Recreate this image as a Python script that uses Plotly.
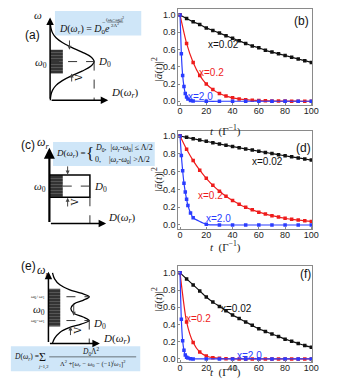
import plotly.graph_objects as go

# browser window size; the page body keeps its default 8px margin, so the
# figure itself is drawn 8px smaller and all pixel positions are shifted by it
W, H = 337, 391
OFF = 8
FW, FH = W - OFF, H - OFF

# ---- decay curves |a(t)|^2 ----
t_every5 = list(range(0, 101, 5))
t_fast = [0, 1, 2, 3, 4, 5, 6, 8, 10, 20, 30, 40, 50, 60, 70, 80, 90, 100]

b_x002 = [1.0, 0.96, 0.92, 0.89, 0.85, 0.82, 0.79, 0.76, 0.73, 0.70, 0.67,
          0.64, 0.62, 0.59, 0.57, 0.55, 0.53, 0.51, 0.49, 0.47, 0.45]
b_x02 = [1.0, 0.67, 0.45, 0.30, 0.20, 0.135, 0.09, 0.06, 0.04, 0.027, 0.018,
         0.012, 0.008, 0.005, 0.004, 0.002, 0.002, 0.001, 0.001, 0.0, 0.0]
b_x20 = [1.0, 0.55, 0.30, 0.17, 0.09, 0.05, 0.027, 0.008, 0.002,
         0, 0, 0, 0, 0, 0, 0, 0, 0]

d_x002 = [1.0, 0.985, 0.969, 0.954, 0.94, 0.925, 0.91, 0.896, 0.882, 0.868, 0.855,
          0.842, 0.829, 0.816, 0.803, 0.79, 0.778, 0.766, 0.754, 0.742, 0.73]
d_x02 = [1.0, 0.851, 0.724, 0.616, 0.525, 0.446, 0.38, 0.323, 0.275, 0.234, 0.199,
         0.17, 0.144, 0.123, 0.105, 0.089, 0.076, 0.064, 0.055, 0.047, 0.04]
d_x20 = [1.0, 0.78, 0.61, 0.47, 0.37, 0.29, 0.22, 0.135, 0.082,
         0.007, 0, 0, 0, 0, 0, 0, 0, 0]

f_x002 = [1.0, 0.93, 0.86, 0.79, 0.72, 0.66, 0.61, 0.56, 0.51, 0.47, 0.43,
          0.39, 0.35, 0.32, 0.29, 0.26, 0.23, 0.205, 0.18, 0.155, 0.135]
f_x02 = [1.0, 0.43, 0.19, 0.08, 0.035, 0.015, 0.007, 0.003, 0.001, 0, 0,
         0, 0, 0, 0, 0, 0, 0, 0, 0, 0]
f_x20 = [1.0, 0.46, 0.21, 0.10, 0.045, 0.02, 0.01, 0.002, 0,
         0, 0, 0, 0, 0, 0, 0, 0, 0]

x_ticks = [0, 20, 40, 60, 80, 100]
y_ticks = [0.0, 0.2, 0.4, 0.6, 0.8, 1.0]

# ---- schematic density-of-states profiles (omega in units of Lambda, D in D0) ----
gauss_w = [-3.25, -2.8, -2.4, -2.0, -1.6, -1.2, -0.8, -0.4, 0, 0.4, 0.8, 1.2, 1.6, 2.0, 2.4, 2.8, 3.25]
gauss_D = [0.005, 0.02, 0.056, 0.135, 0.278, 0.487, 0.726, 0.923, 1.0,
           0.923, 0.726, 0.487, 0.278, 0.135, 0.056, 0.02, 0.005]
box_w = [0.5, 0.5, -0.5, -0.5]
box_D = [0, 1, 1, 0]
lor_w = [-2.9, -2.5, -2.0, -1.6, -1.3, -1.0, -0.7, -0.4, 0, 0.4, 0.7, 1.0, 1.3, 1.6, 2.0, 2.5, 3.0]
lor_D = [0.10, 0.15, 0.28, 0.51, 0.80, 1.0, 0.85, 0.63, 0.55, 0.63, 0.85, 1.0, 0.80, 0.51, 0.28, 0.15, 0.10]

BLACK, RED, BLUE = "#111111", "#ee1c1c", "#2a3cff"
SANS = "Liberation Sans"
SERIF = "Liberation Serif"


def py(p):
    return 1 - (p - OFF) / FH


def px(p):
    return (p - OFF) / FW


fig = go.Figure()

panels = [
    ("", "y", b_x002, b_x02, b_x20, "(b)", (92.3, 0.93),
     [(33.4, 0.655), (24, 0.337), (15.3, 0.05)], 121),
    ("2", "y2", d_x002, d_x02, d_x20, "(d)", (94, 0.86),
     [(66.9, 0.71), (23.3, 0.33), (29.6, 0.07)], 247),
    ("3", "y3", f_x002, f_x02, f_x20, "(f)", (95.5, 0.99),
     [(42.7, 0.585), (14.4, 0.47), (53, 0.04)], 383),
]

annotations = []
shapes = []

for sfx, yref, s1, s2, s3, letter, lpos, tpos, xtitle_y in panels:
    xr = "x" + sfx
    for tt, yy, col in [(t_every5, s1, BLACK), (t_every5, s2, RED), (t_fast, s3, BLUE)]:
        fig.add_trace(go.Scatter(
            x=tt, y=yy, mode="lines+markers", xaxis=xr, yaxis=yref,
            line=dict(color=col, width=1.2, shape="spline", smoothing=0.6),
            marker=dict(color=col, size=3.5, symbol="square"),
            showlegend=False, hoverinfo="skip"))
    for (tx, ty), txt, col in zip(tpos, ["x=0.02", "x=0.2", "x=2.0"], [BLACK, RED, BLUE]):
        annotations.append(dict(x=tx, y=ty, xref=xr, yref=yref, text=txt, showarrow=False,
                                font=dict(family=SANS, size=10, color=col)))
    annotations.append(dict(x=lpos[0], y=lpos[1], xref=xr, yref=yref, text=letter,
                            showarrow=False, font=dict(family=SANS, size=12, color="#111")))
    annotations.append(dict(x=px(247), y=py(xtitle_y), xref="paper", yref="paper",
                            text="<i>t</i>  (Γ<sup>−1</sup>)", showarrow=False,
                            font=dict(family=SERIF, size=11, color="#222")))

# y-axis titles
for yc in [55, 180, 315]:
    annotations.append(dict(x=px(160), y=py(yc), xref="paper", yref="paper",
                            text="|<i>ā</i>(<i>t</i>)|<sup>2</sup>", textangle=-90, showarrow=False,
                            font=dict(family=SERIF, size=11, color="#222")))

# panel letters on the left
for txt, (lx, ly) in [("(a)", (22, 25)), ("(c)", (18, 145)), ("(e)", (18, 276))]:
    annotations.append(dict(x=px(lx), y=py(ly), xref="paper", yref="paper", text=txt,
                            showarrow=False, font=dict(family=SANS, size=12, color="#111")))


def arrow(xr, yr, x0, y0, x1, y1, w=1.5, head=2, size=1.0, color="black"):
    annotations.append(dict(x=x1, y=y1, ax=x0, ay=y0, xref=xr, yref=yr, axref=xr, ayref=yr,
                            text="", showarrow=True, arrowhead=head, arrowsize=size,
                            arrowwidth=w, arrowcolor=color, standoff=0, startstandoff=0))


def label(xr, yr, x, y, txt, size=11, xanchor="center", family=SERIF, angle=0):
    annotations.append(dict(x=x, y=y, xref=xr, yref=yr, text=txt, showarrow=False,
                            xanchor=xanchor, textangle=angle,
                            font=dict(family=family, size=size, color="#111")))


def dline(xr, yr, x0, y0, x1, y1, dash="dash", w=1, color="#333"):
    shapes.append(dict(type="line", xref=xr, yref=yr, x0=x0, y0=y0, x1=x1, y1=y1,
                       line=dict(color=color, width=w, dash=dash)))


def bluebox(xr, yr, x0, y0, x1, y1):
    shapes.append(dict(type="rect", xref=xr, yref=yr, x0=x0, y0=y0, x1=x1, y1=y1,
                       fillcolor="#cfe6f8", line=dict(width=0), layer="below"))


def shade(xr, yr, d1, w0, w1):
    fig.add_trace(go.Scatter(x=[0, d1, d1, 0, 0], y=[w0, w0, w1, w1, w0], xaxis=xr, yaxis=yr,
                             mode="lines", fill="toself", fillcolor="#333333",
                             fillpattern=dict(shape="-", fgcolor="#808080", size=3,
                                              solidity=0.3, fillmode="overlay"),
                             line=dict(width=0), showlegend=False, hoverinfo="skip"))


OMR = "<i>D</i>(<i>ω<sub>r</sub></i>)"

# ---- (a) Gaussian ----
xa, ya = "x4", "y4"
bluebox(xa, ya, 0.11, 4.25, 2.07, 2.2)
shade(xa, ya, 0.29, -1, 1)
fig.add_trace(go.Scatter(x=gauss_D, y=gauss_w, xaxis=xa, yaxis=ya, mode="lines",
                         line=dict(color="black", width=1.3, shape="spline"),
                         showlegend=False, hoverinfo="skip"))
dline(xa, ya, 0, 0, 1, 0)
dline(xa, ya, 1, 0, 1, -3.25)
arrow(xa, ya, 0, -3.25, 0, 3.7)
arrow(xa, ya, 0, -3.25, 1.32, -3.25)
arrow(xa, ya, 0.44, 1.9, 0.44, 1.0, w=1, size=0.8, color="#444")
arrow(xa, ya, 0.49, -1.8, 0.49, -1.0, w=1, size=0.8, color="#444")
label(xa, ya, 0.66, -1.4, "Λ", size=10, angle=90)
label(xa, ya, -0.27, 3.9, "<i>ω</i>", size=11)
label(xa, ya, -0.03, -0.1, "<i>ω</i><sub>0</sub>", size=11, xanchor="right")
label(xa, ya, 1.05, -0.05, "<i>D</i><sub>0</sub>", size=11, xanchor="left")
label(xa, ya, 1.33, -2.65, OMR, size=11, xanchor="left")
label(xa, ya, 0.15, 2.7, OMR + " = <i>D</i><sub>0</sub><i>e</i>", size=10, xanchor="left")
label(xa, ya, 1.48, 3.55, "(<i>ω<sub>r</sub></i>−<i>ω</i><sub>0</sub>)<sup>2</sup>", size=5)
label(xa, ya, 1.48, 3.1, "2Λ<sup>2</sup>", size=5)
label(xa, ya, 1.22, 3.33, "−", size=6)
dline(xa, ya, 1.30, 3.32, 1.66, 3.32, dash="solid", w=0.5, color="#222")

# ---- (c) box ----
xc, yc = "x5", "y5"
bluebox(xc, yc, 0.09, 1.98, 2.6, 0.9)
shade(xc, yc, 0.33, -0.5, 0.5)
fig.add_trace(go.Scatter(x=box_D, y=box_w, xaxis=xc, yaxis=yc, mode="lines",
                         line=dict(color="black", width=1.5),
                         showlegend=False, hoverinfo="skip"))
dline(xc, yc, 0.33, 0, 1, 0)
dline(xc, yc, 1, -0.5, 1, -1.67)
arrow(xc, yc, 0, -1.67, 0, 1.72, w=2.2)
arrow(xc, yc, 0, -1.67, 1.4, -1.67, w=1.5)
arrow(xc, yc, 0.45, 0.95, 0.45, 0.52, w=1, size=0.8, color="#444")
arrow(xc, yc, 0.45, -0.98, 0.45, -0.52, w=1, size=0.8, color="#444")
label(xc, yc, 0.63, -0.73, "Λ", size=10, angle=90)
label(xc, yc, -0.17, 1.93, "<i>ω<sub>r</sub></i>", size=12)
label(xc, yc, -0.03, -0.05, "<i>ω</i><sub>0</sub>", size=11, xanchor="right")
label(xc, yc, 1.05, -0.02, "<i>D</i><sub>0</sub>", size=11, xanchor="left")
label(xc, yc, 1.4, -1.44, OMR, size=11, xanchor="left")
label(xc, yc, 0.12, 1.45, OMR + " =", size=9, xanchor="left")
label(xc, yc, 0.86, 1.47, "{", size=17, xanchor="left")
label(xc, yc, 1.08, 1.72, "<i>D</i><sub>0</sub>,  |<i>ω<sub>r</sub></i>-<i>ω</i><sub>0</sub>| ≤ Λ/2",
      size=8, xanchor="left")
label(xc, yc, 1.08, 1.18, "0,    |<i>ω<sub>r</sub></i>-<i>ω</i><sub>0</sub>| >Λ/2", size=8, xanchor="left")

# ---- (e) double Lorentzian ----
xe, ye = "x6", "y6"
bluebox(xe, ye, -0.92, -3.15, 2.25, -5.25)
shade(xe, ye, 0.29, -1.5, 1.67)
fig.add_trace(go.Scatter(x=lor_D, y=lor_w, xaxis=xe, yaxis=ye, mode="lines",
                         line=dict(color="black", width=1.3, shape="spline"),
                         showlegend=False, hoverinfo="skip"))
dline(xe, ye, 0, 1, 1, 1)
dline(xe, ye, 0, -1, 1, -1)
dline(xe, ye, 1, -1, 1, -2.92)
arrow(xe, ye, 0, -2.92, 0, 3.1)
arrow(xe, ye, 0, -2.92, 1.26, -2.92)
arrow(xe, ye, 0.62, 0.45, 0.62, -0.6, w=1, size=0.8, color="#444")
arrow(xe, ye, 0.54, -2.35, 0.54, -1.5, w=1, size=0.8, color="#444")
label(xe, ye, 0.7, -1.85, "Λ", size=10, angle=90)
label(xe, ye, -0.13, 3.15, "<i>ω<sub>r</sub></i>", size=12)
label(xe, ye, -0.03, 1.0, "<i>ω</i><sub>0</sub>+<i>ω</i><sub>1</sub>", size=5, xanchor="right")
label(xe, ye, -0.03, -0.15, "<i>ω</i><sub>0</sub>", size=11, xanchor="right")
label(xe, ye, -0.03, -1.0, "<i>ω</i><sub>0</sub>−<i>ω</i><sub>1</sub>", size=5, xanchor="right")
label(xe, ye, 1.05, -1.3, "<i>D</i><sub>0</sub>", size=11, xanchor="left")
label(xe, ye, 1.28, -2.55, OMR, size=11, xanchor="left")
label(xe, ye, -0.9, -4.1, OMR + " =", size=7.5, xanchor="left")
label(xe, ye, -0.14, -4.1, "Σ", size=12)
label(xe, ye, -0.14, -4.9, "<i>j</i>=1,2", size=4.5)
label(xe, ye, 1.05, -3.6, "<i>D</i><sub>0</sub>Λ<sup>2</sup>", size=7.5)
dline(xe, ye, 0.02, -4.05, 2.15, -4.05, dash="solid", w=0.6, color="#222")
label(xe, ye, 1.08, -4.6,
      "Λ<sup>2</sup> +[<i>ω<sub>r</sub></i> − <i>ω</i><sub>0</sub> − (−1)<sup><i>j</i></sup><i>ω</i><sub>1</sub>]<sup>2</sup>",
      size=6.5)

# ---- layout ----
xdom = [px(181), px(318)]
common_x = dict(domain=xdom, range=[-1.3, 100.8], tickvals=x_ticks, showline=True, mirror=True,
                linecolor="#8a8a8a", linewidth=1, ticks="inside", ticklen=2, tickcolor="#8a8a8a",
                showgrid=False, zeroline=False, ticklabelstandoff=-3, ticklabeloverflow="allow",
                tickfont=dict(family=SANS, size=9, color="#222"))
common_y = dict(tickvals=y_ticks, tickformat=".1f", showline=True, mirror=True,
                linecolor="#8a8a8a", linewidth=1, ticks="inside", ticklen=2, tickcolor="#8a8a8a",
                showgrid=False, zeroline=False, ticklabeloverflow="allow",
                tickfont=dict(family=SANS, size=9, color="#222"))

hidden = dict(visible=False, showgrid=False, zeroline=False, fixedrange=True)
sx_dom = [px(8), px(165)]

fig.update_layout(
    width=FW, height=FH, margin=dict(l=0, r=0, t=0, b=0),
    paper_bgcolor="white", plot_bgcolor="rgba(0,0,0,0)",
    xaxis=dict(common_x, anchor="y"),
    xaxis2=dict(common_x, anchor="y2"),
    xaxis3=dict(common_x, anchor="y3"),
    yaxis=dict(common_y, domain=[py(105), py(8)], range=[-0.046, 1.069], anchor="x"),
    yaxis2=dict(common_y, domain=[py(230), py(131)], range=[-0.048, 1.056], anchor="x2"),
    yaxis3=dict(common_y, domain=[py(364), py(267)], range=[-0.038, 1.08], anchor="x3"),
    xaxis4=dict(hidden, domain=sx_dom, range=[-0.933, 2.556], anchor="y4"),
    yaxis4=dict(hidden, domain=[py(120), py(8)], range=[-4.917, 4.417], anchor="x4"),
    xaxis5=dict(hidden, domain=sx_dom, range=[-0.997, 2.795], anchor="y5"),
    yaxis5=dict(hidden, domain=[py(250), py(135)], range=[-2.822, 2.289], anchor="x5"),
    xaxis6=dict(hidden, domain=sx_dom, range=[-0.966, 2.799], anchor="y6"),
    yaxis6=dict(hidden, domain=[py(380), py(265)], range=[-5.833, 3.75], anchor="x6"),
    annotations=annotations,
    shapes=shapes,
)

fig.write_html("out.html")
